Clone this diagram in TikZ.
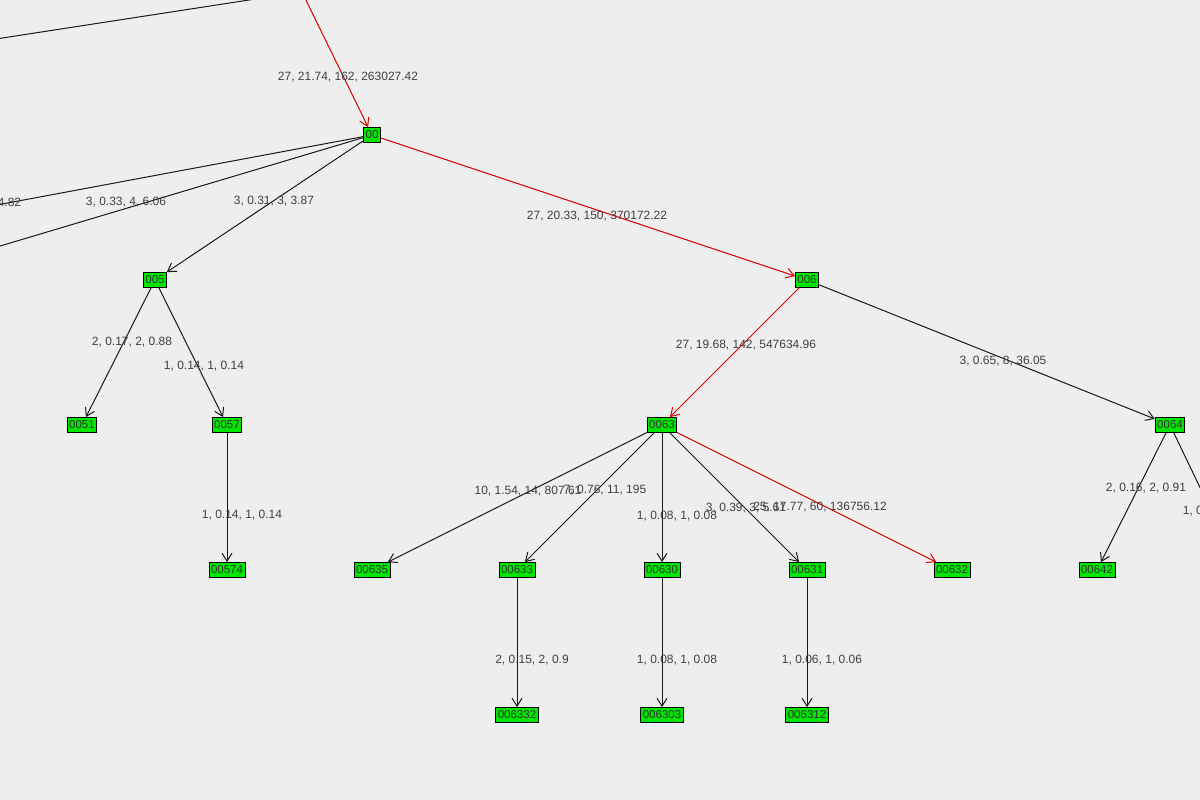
\documentclass[tikz,border=0pt]{standalone}
\usepackage{fontspec}
\setmainfont{Liberation Sans}
\usetikzlibrary{arrows.meta}
\begin{document}
\begin{tikzpicture}[x=1pt,y=-1pt,line width=1pt,
  nd/.style={draw=black,line width=0.8pt,fill={rgb,255:red,0;green,230;blue,0},inner xsep=2pt,inner ysep=1pt,minimum height=15pt,font=\fontsize{11.5}{11.5}\selectfont,text=black!80},
  ed/.style={draw=black!90,-{Straight Barb[length=8pt,width=10pt]}},
  red/.style={draw=red!85!black,-{Straight Barb[length=8pt,width=10pt]}},
  lb/.style={font=\fontsize{12}{12}\selectfont,text=black!75}]
\fill[fill={rgb,255:red,238;green,238;blue,238}] (0,0) rectangle (1200,800);
\useasboundingbox (0,0) rectangle (1200,800);
\clip (0,0) rectangle (1200,800);
\coordinate (p) at (300,-12);
\coordinate (l1) at (-30,210);
\coordinate (l2) at (-30,255);
\coordinate (t1) at (-30,43);
\coordinate (t2) at (262,-2);
\coordinate (r1) at (1230,550);
\node[nd] (00) at (372,135) {00};
\node[nd] (005) at (155,280) {005};
\node[nd] (006) at (807,280) {006};
\node[nd] (0051) at (82,425) {0051};
\node[nd] (0057) at (227,425) {0057};
\node[nd] (0063) at (662,425) {0063};
\node[nd] (0064) at (1170,425) {0064};
\node[nd] (00574) at (227,570) {00574};
\node[nd] (00635) at (372,570) {00635};
\node[nd] (00633) at (517,570) {00633};
\node[nd] (00630) at (662,570) {00630};
\node[nd] (00631) at (807,570) {00631};
\node[nd] (00632) at (952,570) {00632};
\node[nd] (00642) at (1097,570) {00642};
\node[nd] (006332) at (517,715) {006332};
\node[nd] (006303) at (662,715) {006303};
\node[nd] (006312) at (807,715) {006312};
\draw[draw=black!90] (t1) -- (t2);
\draw[red] (p) -- (00);
\draw[draw=black!90] (00) -- (l1);
\draw[draw=black!90] (00) -- (l2);
\draw[ed] (00) -- (005);
\draw[red] (00) -- (006);
\draw[ed] (005) -- (0051);
\draw[ed] (005) -- (0057);
\draw[ed] (0057) -- (00574);
\draw[red] (006) -- (0063);
\draw[ed] (006) -- (0064);
\draw[ed] (0063) -- (00635);
\draw[ed] (0063) -- (00633);
\draw[ed] (0063) -- (00630);
\draw[ed] (0063) -- (00631);
\draw[red] (0063) -- (00632);
\draw[ed] (0064) -- (00642);
\draw[draw=black!90] (0064) -- (r1);
\draw[ed] (00633) -- (006332);
\draw[ed] (00630) -- (006303);
\draw[ed] (00631) -- (006312);
\node[lb] (a1) at (348,77) {27, 21.74, 162, 263027.42};
\node[lb,anchor=east] (a2) at (25,202) {4.82};
\node[lb] (a3) at (126,202) {3, 0.33, 4, 6.06};
\node[lb] (a4) at (274,201) {3, 0.31, 3, 3.87};
\node[lb] (a5) at (597,216) {27, 20.33, 150, 370172.22};
\node[lb] (a6) at (132,342) {2, 0.17, 2, 0.88};
\node[lb] (a7) at (204,366) {1, 0.14, 1, 0.14};
\node[lb] (a8) at (746,345) {27, 19.68, 142, 547634.96};
\node[lb] (a9) at (1003,361) {3, 0.65, 8, 36.05};
\node[lb] (a10) at (242,515) {1, 0.14, 1, 0.14};
\node[lb] (a11) at (528,491) {10, 1.54, 14, 807.61};
\node[lb] (a12) at (605,490) {7, 0.76, 11, 195};
\node[lb] (a13) at (677,516) {1, 0.08, 1, 0.08};
\node[lb] (a14) at (746,508) {3, 0.39, 3, 5.61};
\node[lb] (a15) at (820,507) {25, 17.77, 60, 136756.12};
\node[lb] (a16) at (1146,488) {2, 0.16, 2, 0.91};
\node[lb,anchor=west] (a17) at (1179,511) {1, 0};
\node[lb] (a18) at (532,660) {2, 0.15, 2, 0.9};
\node[lb] (a19) at (677,660) {1, 0.08, 1, 0.08};
\node[lb] (a20) at (822,660) {1, 0.06, 1, 0.06};
\end{tikzpicture}
\end{document}
